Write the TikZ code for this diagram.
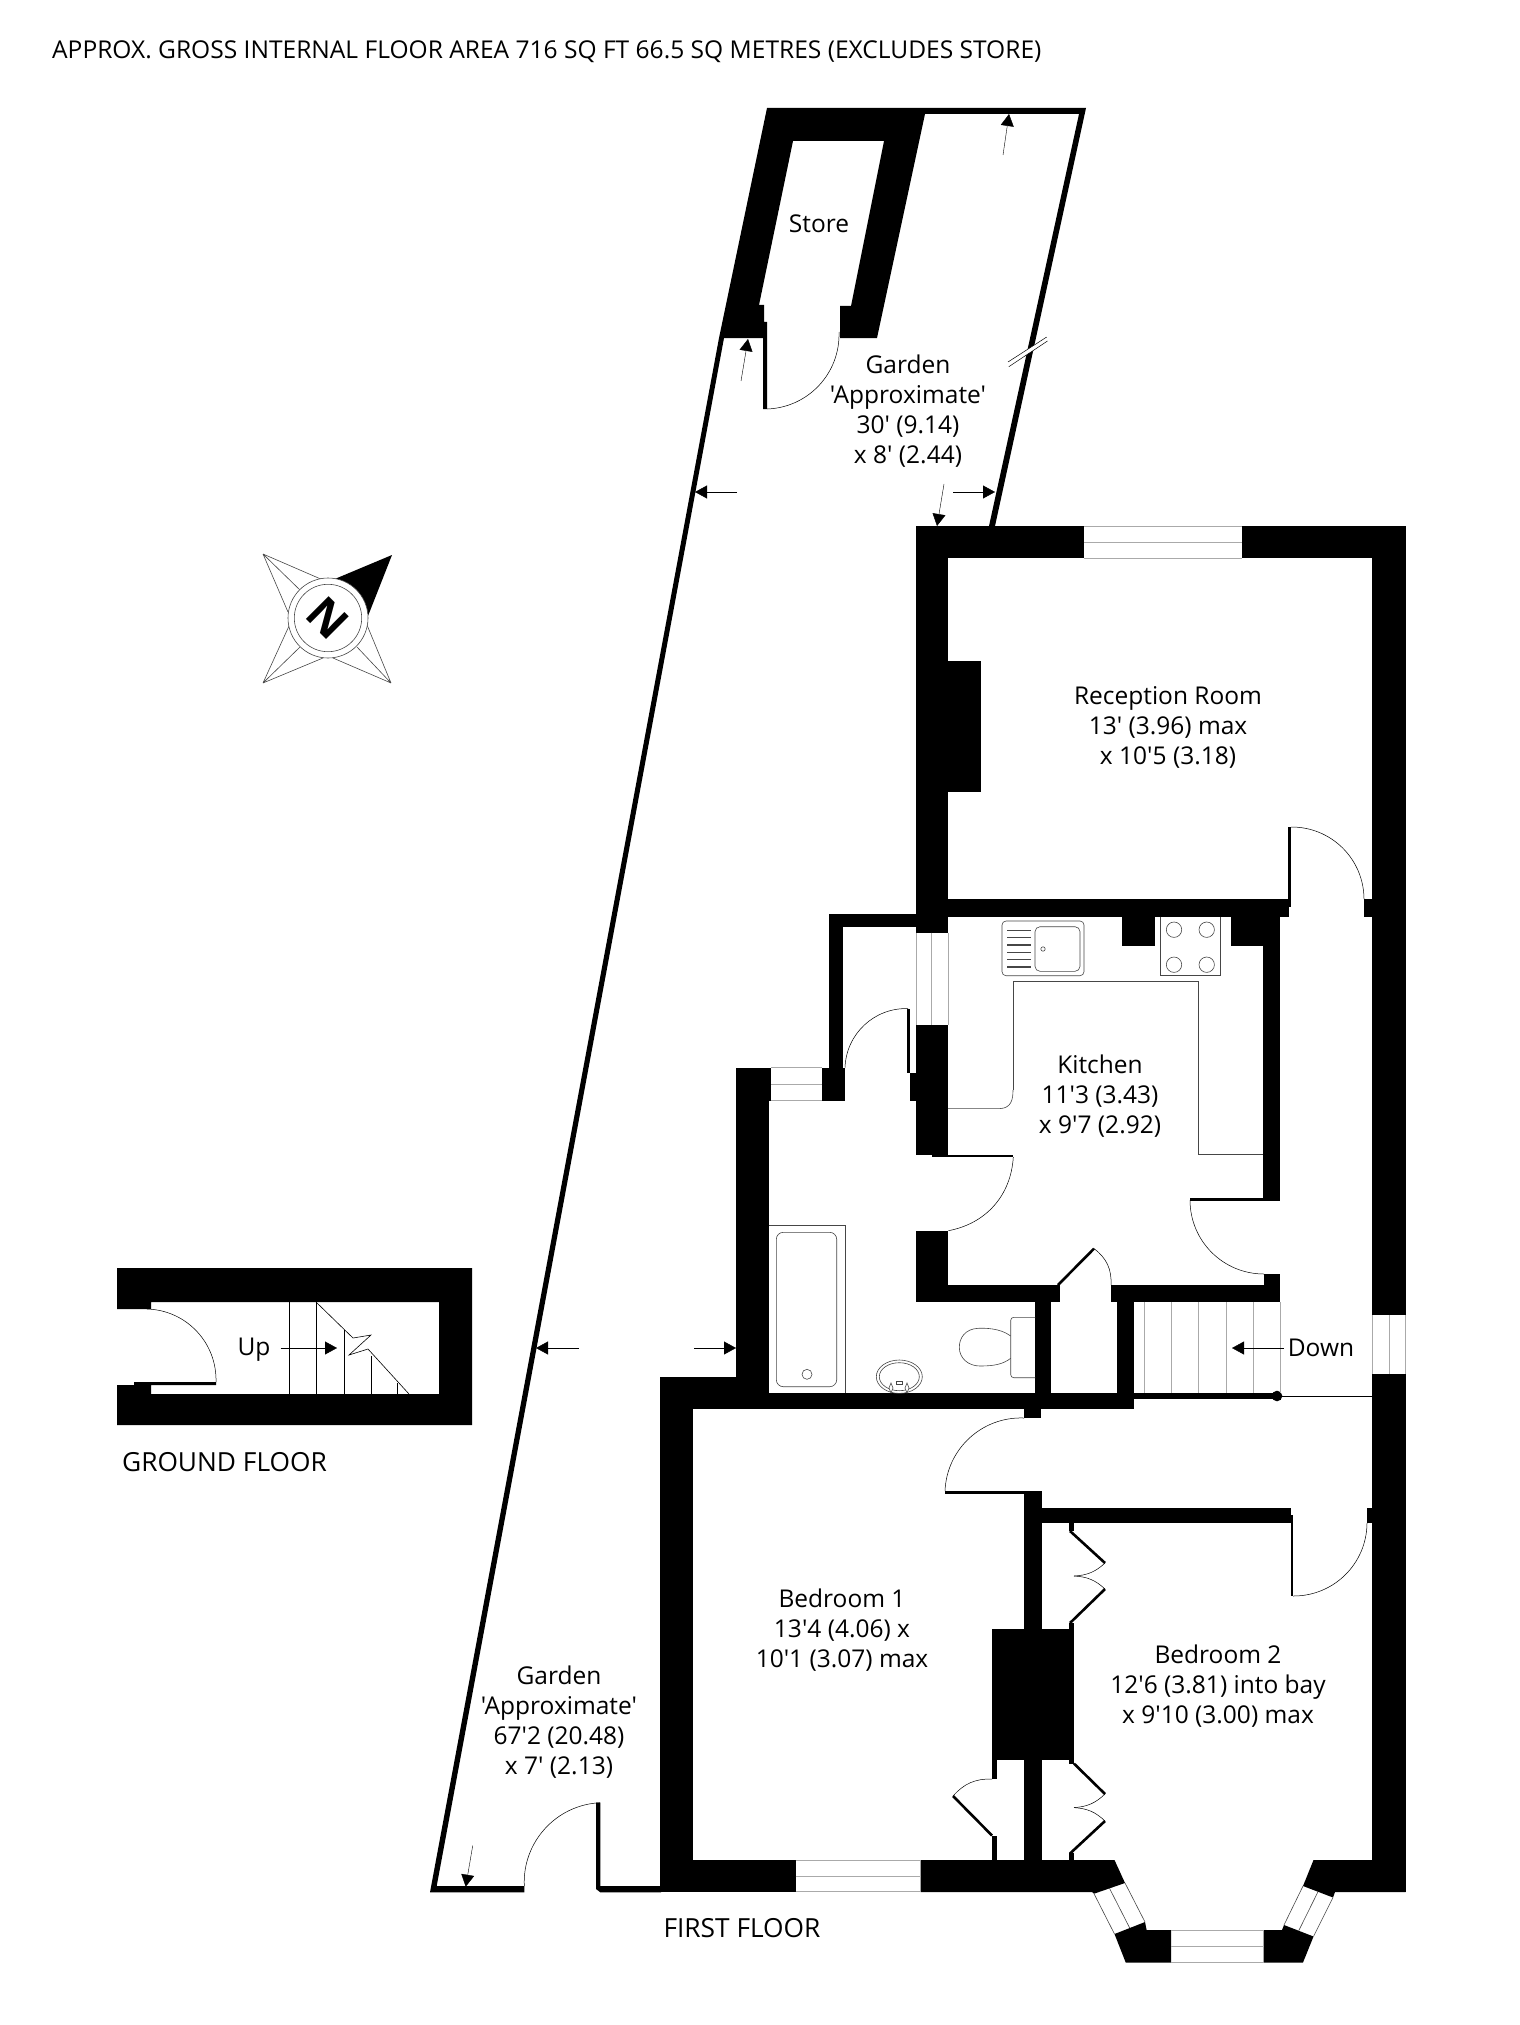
\documentclass[tikz,border=0pt]{standalone}
\usepackage{fontspec}
\newfontfamily\planfont{Open Sans}
\usetikzlibrary{arrows.meta}
\definecolor{glazecolor}{RGB}{170, 170, 170}
\definecolor{fittingcolor}{RGB}{70, 70, 70}

\begin{document}
\begin{tikzpicture}[
    x=1pt, y=-1pt,
    wall/.style={fill=black, draw=none},
    glaze/.style={draw=glazecolor, line width=0.9pt},
    swing/.style={draw=black, line width=0.5pt},
    leaf/.style={draw=black, line width=2.6pt},
    fitting/.style={draw=fittingcolor, line width=0.6pt},
    tread/.style={draw=black, line width=0.6pt},
    tick/.style={-{Triangle[length=12pt,width=13pt]}, draw=black, line width=0.4pt},
    roomlabel/.style={font=\planfont\fontsize{24.5}{30}\selectfont, align=center, inner sep=0pt},
    floorlabel/.style={font=\planfont\fontsize{26.3}{30}\selectfont, inner sep=0pt}
]
    \useasboundingbox (0,0) rectangle (1519,2025);

    % Title
    \node[roomlabel, anchor=west, font=\planfont\fontsize{24.55}{30}\selectfont] (title) at (52,52) {APPROX. GROSS INTERNAL FLOOR AREA 716 SQ FT 66.5 SQ METRES (EXCLUDES STORE)};

    % Garden boundary and store
    \fill[wall] (767,108) -- (1086,108) -- (995,526) -- (989,526) -- (1079,114) -- (925,114) -- (877,338) -- (840,338) -- (840,306) -- (851,306) -- (884,141) -- (793,141) -- (759,305) -- (764,305) -- (764,322) -- (767,322) -- (767,409) -- (763,409) -- (763,338) -- (724,338) -- (436.7,1886) -- (524.3,1886) -- (524.3,1892.3) -- (430,1892.3) -- (719,338) -- cycle;
    \fill[wall] (596,1802.7) -- (600.3,1802.7) -- (600.3,1886) -- (661,1886) -- (661,1892.3) -- (600.3,1892.3) -- (596,1889) -- cycle;
    % Break in the boundary
    \fill[white] (1008,362) -- (1046.7,337) -- (1047.5,341) -- (1008.8,366.7) -- cycle;
    \draw[swing] (1008,362) -- (1046.7,337) (1008.8,366.7) -- (1047.5,341);

    % Reception room walls
    \fill[wall] (915.7,525.7) rectangle (1084,558);
    \fill[wall] (1241.7,525.7) rectangle (1405.7,558);
    \fill[wall] (915.7,558) rectangle (948,932.7);
    \fill[wall] (948,661) rectangle (981,791.7);
    \fill[wall] (1372,558) rectangle (1405.7,1315);
    \fill[wall] (1372,1374) rectangle (1405.7,1892);
    \fill[wall] (948,899) rectangle (1288.5,916.7);
    \fill[wall] (1288,826.7) rectangle (1291,907);
    \fill[wall] (1364,899) rectangle (1372,916.7);

    % Kitchen walls
    \fill[wall] (1231,916.7) rectangle (1280,946);
    \fill[wall] (1122,916.7) rectangle (1155,946);
    \fill[wall] (1263,946) rectangle (1280,1200.7);
    \fill[wall] (1190,1198) rectangle (1263,1200.7);
    \fill[wall] (1264,1274) rectangle (1280,1301.7);
    \fill[wall] (1111,1285) rectangle (1264,1301.7);
    \fill[wall] (948,1285) rectangle (1060,1301.7);
    \fill[wall] (915.7,1230.7) rectangle (948.3,1301.7);
    \fill[wall] (915.7,1024.6) rectangle (948.3,1155);
    \fill[wall] (910,1073) rectangle (915.7,1100.7);
    \fill[wall] (907.3,1008.6) rectangle (910,1073);
    \fill[wall] (931.7,1155) rectangle (1013.3,1157.3);

    % Bathroom walls
    \fill[wall] (829,914) rectangle (915.7,926.7);
    \fill[wall] (829,914) rectangle (843.3,1067.7);
    \fill[wall] (821.7,1067.7) rectangle (845,1100.7);
    \fill[wall] (736,1067.7) rectangle (771,1100.7);
    \fill[wall] (736,1100.7) rectangle (769,1393.3);
    \fill[wall] (660,1376.7) rectangle (736,1393.3);
    \fill[wall] (660,1393.3) rectangle (1133.5,1409.3);
    \fill[wall] (1024,1409.3) rectangle (1041,1418.3);
    \fill[wall] (1035.3,1301.7) rectangle (1051.3,1393.3);
    \fill[wall] (1117,1301.7) rectangle (1133.5,1393.3);
    \fill[wall] (1133,1393) rectangle (1277,1399);
    \fill[wall] (1277,1396) circle (5.3);

    % Bedroom walls
    \fill[wall] (660,1409.3) rectangle (692.7,1892);
    \fill[wall] (692.7,1860) rectangle (795.6,1892);
    \fill[wall] (945,1491) rectangle (1033,1494);
    \fill[wall] (1033,1491) rectangle (1041.5,1507.5);
    \fill[wall] (1024,1494) rectangle (1041.5,1860);
    \fill[wall] (1041.5,1507.5) rectangle (1291,1523);
    \fill[wall] (1291,1515) rectangle (1293,1596);
    \fill[wall] (1367,1507.5) rectangle (1372.5,1523);
    \fill[wall] (992,1629) rectangle (1074,1760);
    \fill[wall] (1069,1523) rectangle (1074,1531);
    \fill[wall] (1069,1623) rectangle (1074,1629);
    \fill[wall] (1069,1760) rectangle (1074,1764);
    \fill[wall] (1069,1853) rectangle (1074,1860);
    \fill[wall] (992,1760) rectangle (997,1779);
    \fill[wall] (992,1835.5) rectangle (997,1860);

    % Bay
    \fill[wall] (920.6,1860) -- (1114.5,1860) -- (1125,1883) -- (1094,1893.7) -- (1092,1892) -- (920.6,1892) -- cycle;
    \fill[wall] (1114.5,1934) -- (1145,1922) -- (1146.6,1930) -- (1171,1930) -- (1171,1962.5) -- (1125.7,1962.5) -- cycle;
    \fill[wall] (1263.5,1930) -- (1282,1930) -- (1284,1925) -- (1313.5,1936.5) -- (1303,1962.5) -- (1263.5,1962.5) -- cycle;
    \fill[wall] (1313.5,1860) -- (1372,1860) -- (1405.7,1860) -- (1405.7,1892) -- (1335,1892) -- (1333,1897.5) -- (1303,1886) -- cycle;

    % Windows
    \draw[glaze] (1084,526) -- (1241.7,526) (1084,542) -- (1241.7,542) (1084,558) -- (1241.7,558);
    \draw[glaze] (916,932.7) -- (916,1024.6) (931.7,932.7) -- (931.7,1024.6) (948,932.7) -- (948,1024.6);
    \draw[glaze] (771,1067.7) -- (821.7,1067.7) (771,1084.3) -- (821.7,1084.3) (771,1100.7) -- (821.7,1100.7);
    \draw[glaze] (1372,1315) -- (1372,1374) (1389,1315) -- (1389,1374) (1405.3,1315) -- (1405.3,1374);
    \draw[glaze] (795.6,1860) -- (920.6,1860) (795.6,1876.4) -- (920.6,1876.4) (795.6,1891.7) -- (920.6,1891.7);
    \draw[glaze] (1171,1930) -- (1263.5,1930) (1171,1946.5) -- (1263.5,1946.5) (1171,1962.2) -- (1263.5,1962.2);
    \draw[fitting] (1094,1893.7) -- (1114.5,1934) (1109.5,1888.3) -- (1129.7,1928) (1125,1883) -- (1145,1922);
    \draw[fitting] (1284,1925) -- (1303,1886) (1298.7,1930.7) -- (1318,1891.7) (1313.5,1936.5) -- (1333,1897.5);

    % Doors
    \draw[swing] (767,409) to[bend right=45] (839,332);
    \draw[swing] (1291,827) to[bend left=45] (1364,899);
    \draw[swing] (908,1008.6) to[bend right=45] (845,1067.7);
    \draw[swing] (1013.3,1157) to[bend left=38] (948.3,1230.7);
    \draw[swing] (1190,1200) to[bend right=45] (1264,1274);
    \draw[swing] (1094,1248.6) to[bend left=28] (1111,1285);
    \draw[swing] (1024,1418) to[bend right=45] (945,1491);
    \draw[swing] (1293,1596) to[bend right=45] (1367,1523);
    \draw[swing] (524.3,1886) to[bend left=45] (600,1802.7);
    \draw[leaf] (1058,1285) -- (1094,1248.6);

    % Wardrobes
    \draw[leaf] (1070,1531) -- (1105,1563) (1105,1589) -- (1070,1623);
    \draw[leaf] (1074,1763.6) -- (1105,1794) (1105,1821) -- (1070,1853.5);
    \draw[leaf] (953,1796) -- (992,1835.5);
    \draw[swing] (1105,1563) to[bend left=20] (1074,1576);
    \draw[swing] (1105,1589) to[bend right=20] (1074,1576);
    \draw[swing] (1105,1794) to[bend left=20] (1074,1807.6);
    \draw[swing] (1105,1821) to[bend right=20] (1074,1807.6);
    \draw[swing] (992,1779) to[bend right=25] (953,1796);

    % Kitchen fittings
    \draw[fitting] (1013,1090) -- (1013,981) -- (1198,981) -- (1198,1154.3) -- (1263,1154.3);
    \draw[fitting] (1013,1090) .. controls (1013,1100) and (1011,1108) .. (1000,1108.6) -- (948,1108.6);
    \draw[fitting, rounded corners=4pt] (1002,921) rectangle (1084,975.7);
    \draw[fitting, rounded corners=5pt] (1035,926.7) rectangle (1080,971.3);
    \draw[fitting] (1043,949) circle (2.2);
    \foreach \y in {930.7,937.7,945,952.3,959.7,967}
        \draw[fitting, line width=1.1pt] (1007,\y) -- (1031,\y);
    \draw[fitting] (1160,916.7) -- (1160,975.7) -- (1220.7,975.7) -- (1220.7,916.7);
    \foreach \x in {1174,1206.7}
        \foreach \y in {929.7,964.7}
            \draw[fitting] (\x,\y) circle (7.7);

    % Bathroom fittings
    \draw[fitting] (769,1225) -- (845,1225) -- (845,1393.3);
    \draw[fitting, rounded corners=7pt] (776.3,1232.3) rectangle (836.7,1386.7);
    \draw[fitting] (807,1374.3) circle (5);
    \draw[fitting] (899.3,1376.7) ellipse (23 and 16.7);
    \draw[fitting] (899.3,1376.7) ellipse (20 and 14);
    \draw[fitting] (896.5,1381.7) rectangle (902,1384.7);
    \draw[fitting, fill=white] (891,1383) -- (893,1388) -- (891,1393) -- (889,1388) -- cycle;
    \draw[fitting, fill=white] (907,1383) -- (909,1388) -- (907,1393) -- (905,1388) -- cycle;
    \draw[fitting, rounded corners=3pt] (1035.3,1317.3) -- (1010.7,1317.3) -- (1010.7,1377.7) -- (1035.3,1377.7);
    \draw[fitting] (1010.7,1336) .. controls (1000,1328) and (985,1328) .. (978,1328.3) .. controls (965,1329) and (959.3,1338) .. (959.3,1347.3) .. controls (959.3,1358) and (968,1366) .. (980,1366) .. controls (995,1366) and (1003,1364) .. (1010.7,1358.3);

    % Stairs
    \foreach \x in {1144,1171,1198,1226,1253,1280}
        \draw[glaze] (\x,1302) -- (\x,1393);
    \draw[tread] (1277,1396) -- (1372,1396);

    % Ground floor
    \fill[wall] (117,1268) -- (472,1268) -- (472,1425) -- (117,1425) -- (117,1385) -- (134,1385) -- (134,1382) -- (216,1382) -- (216,1385) -- (151,1385) -- (151,1394) -- (439,1394) -- (439,1302) -- (151,1302) -- (151,1309) -- (117,1309) -- cycle;
    \draw[swing] (147,1309) to[bend left=45] (216,1382);
    \draw[tread] (289,1302) -- (289,1394) (316,1302) -- (316,1394) (344,1330) -- (344,1394) (371,1356) -- (371,1394) (397,1383) -- (397,1394);
    \draw[tread] (316,1302) -- (353,1338) -- (371,1335) -- (349,1355) -- (368,1349) -- (409,1394);

    % Dimension arrows
    \draw[tick] (1003,155) -- (1009,114);
    \draw[tick] (741,381) -- (748,339);
    \draw[tick] (737,492) -- (695,492);
    \draw[tick] (953,492) -- (995,492);
    \draw[tick] (944,484) -- (937,526);
    \draw[tick] (579,1348) -- (536,1348);
    \draw[tick] (694,1348) -- (736,1348);
    \draw[tick] (472.7,1845.7) -- (465.7,1886.7);

    % Compass
    \draw[fitting] (263,554) -- (323,580) (263,554) -- (288,612) (263,554) -- (301,591);
    \draw[fitting] (263,683) -- (289,626) (263,683) -- (323,658) (263,683) -- (300,647);
    \draw[fitting] (391,683) -- (367,625) (391,683) -- (333,658) (391,683) -- (357,647);
    \fill[wall] (392,555) -- (330,581) -- (328,618) -- (368,616) -- cycle;
    \draw[fitting, fill=white] (328,618) circle (40);
    \draw[fitting] (328,618) circle (33.7);
    \node[inner sep=0pt, rotate=-45, font=\planfont\bfseries\fontsize{45}{45}\selectfont] (north) at (328,618) {N};

    % Room labels
    \node[roomlabel] (store) at (819,223.5) {Store};
    \node[roomlabel] (gardenupper) at (908,411) {Garden\\'Approximate'\\30' (9.14)\\x 8' (2.44)};
    \node[roomlabel] (reception) at (1168,727) {Reception Room\\13' (3.96) max\\x 10'5 (3.18)};
    \node[roomlabel] (kitchen) at (1100,1096) {Kitchen\\11'3 (3.43)\\x 9'7 (2.92)};
    \node[roomlabel] (bedroomone) at (842,1630) {Bedroom 1\\13'4 (4.06) x\\10'1 (3.07) max};
    \node[roomlabel] (bedroomtwo) at (1218,1686) {Bedroom 2\\12'6 (3.81) into bay\\x 9'10 (3.00) max};
    \node[roomlabel] (gardenlower) at (559,1722) {Garden\\'Approximate'\\67'2 (20.48)\\x 7' (2.13)};
    \node[roomlabel] (down) at (1321,1348) {Down};
    \node[roomlabel] (up) at (254,1350) {Up};
    \draw[tick] (down.west) ++(-4,0) -- (1232,1348);
    \draw[tick] (up.east) ++(10,-2) -- (337,1348);

    % Floor labels
    \node[floorlabel] (groundfloor) at (224.5,1462) {GROUND FLOOR};
    \node[floorlabel] (firstfloor) at (742,1928) {FIRST FLOOR};
\end{tikzpicture}
\end{document}
